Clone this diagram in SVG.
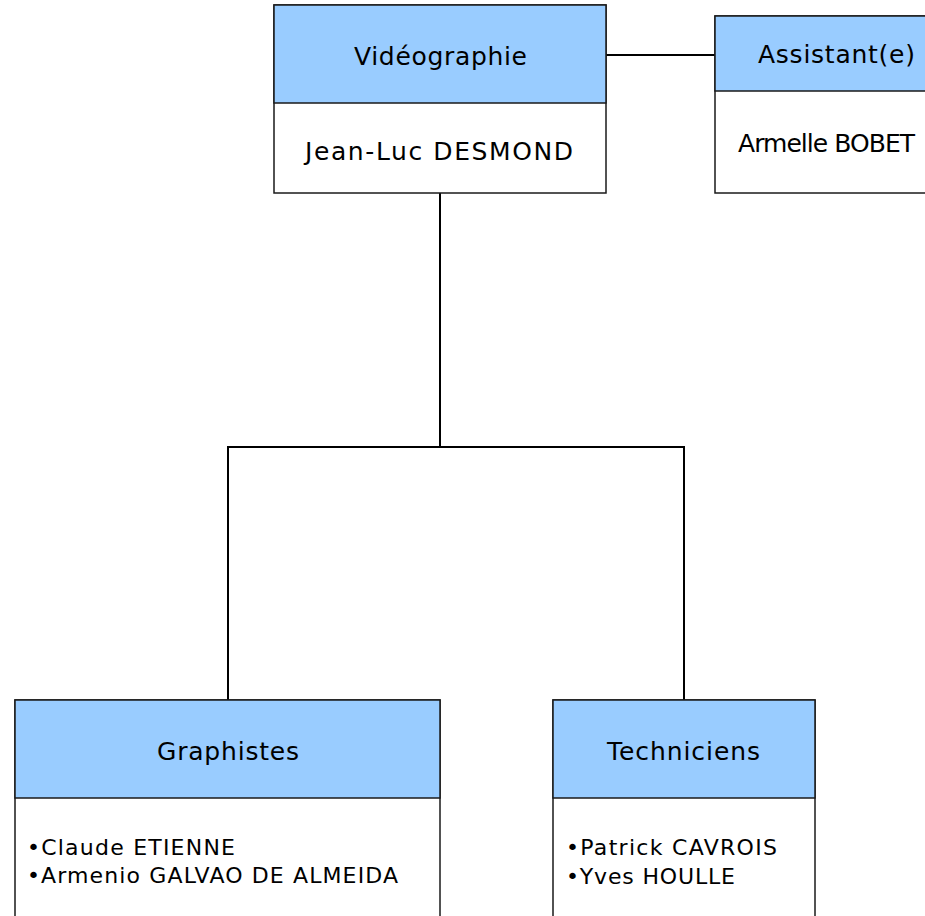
<svg xmlns="http://www.w3.org/2000/svg" width="925" height="916" viewBox="0 0 925 916">
<style>
.hdr{fill:#99CCFF;stroke:#1a1a1a;stroke-width:1.5}
.body{fill:#FFFFFF;stroke:#1a1a1a;stroke-width:1.5}
.t{font-family:"DejaVu Sans",Verdana,sans-serif;fill:#000;font-size:25px}
.s{font-size:22px}
.conn{stroke:#000;stroke-width:2;fill:none}
</style>
<rect width="925" height="916" fill="#fff"/>
<g id="connectors">
<path class="conn" d="M606,55 H715"/>
<path class="conn" d="M440,193 V447 M227,447 H685 M228,446 V700 M684,446 V700"/>
</g>
<g id="videographie">
<rect class="body" x="274" y="5" width="332" height="188"/>
<rect class="hdr" x="274" y="5" width="332" height="98"/>
<text class="t" x="354" y="65" textLength="173" lengthAdjust="spacing">Vidéographie</text>
<text class="t" x="305" y="160" font-size="26" textLength="268" lengthAdjust="spacing">Jean-Luc DESMOND</text>
</g>
<g id="assistant">
<rect class="body" x="715" y="16" width="242" height="177"/>
<rect class="hdr" x="715" y="16" width="242" height="75"/>
<text class="t" x="758" y="63" textLength="157" lengthAdjust="spacing">Assistant(e)</text>
<text class="t" x="738" y="152" font-size="22" textLength="177" lengthAdjust="spacing">Armelle BOBET</text>
</g>
<g id="graphistes">
<rect class="body" x="15" y="700" width="425" height="230"/>
<rect class="hdr" x="15" y="700" width="425" height="98"/>
<text class="t" x="157" y="760" textLength="142" lengthAdjust="spacing">Graphistes</text>
<text class="t s" x="27" y="855" textLength="208" lengthAdjust="spacing">•Claude ETIENNE</text>
<text class="t s" x="27" y="883" textLength="371" lengthAdjust="spacing">•Armenio GALVAO DE ALMEIDA</text>
</g>
<g id="techniciens">
<rect class="body" x="553" y="700" width="262" height="230"/>
<rect class="hdr" x="553" y="700" width="262" height="98"/>
<text class="t" x="607" y="760" textLength="153" lengthAdjust="spacing">Techniciens</text>
<text class="t s" x="566" y="855" textLength="211" lengthAdjust="spacing">•Patrick CAVROIS</text>
<text class="t s" x="566" y="884" textLength="169" lengthAdjust="spacing">•Yves HOULLE</text>
</g>
</svg>
